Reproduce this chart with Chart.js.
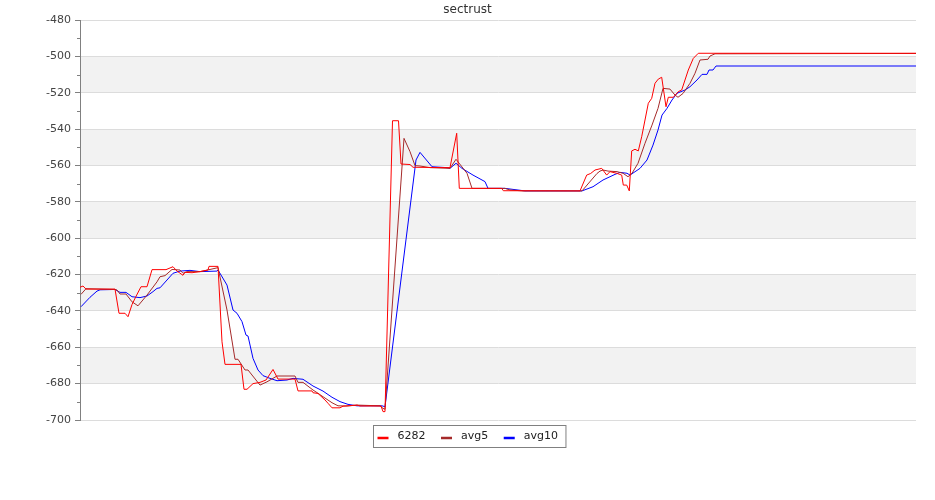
<!DOCTYPE html>
<html>
<head>
<meta charset="utf-8">
<title>sectrust</title>
<script src="https://cdn.jsdelivr.net/npm/chart.js@4.4.1/dist/chart.umd.min.js"></script>
<style>
  html, body { margin: 0; padding: 0; background: #ffffff; }
  #grafico { display: block; }
</style>
</head>
<body>
<canvas id="grafico" width="935" height="500"></canvas>
<script>
// ─────────────────────────────────────────
// Datos del gráfico
// ─────────────────────────────────────────
const tituloGrafico = 'sectrust';
const nombresSeries = ['6282', 'avg5', 'avg10'];

// eje Y
const yMin  = -700;
const yMax  = -480;
const yPaso = 20;
// eje X (muestras)
const xMin = 0;
const xMax = 836;

// serie 6282
const serieT = [0, 3, 6, 35, 39, 45, 48, 52, 56, 61, 67, 72, 86, 93, 97, 103, 105, 112, 120, 128,
  129, 138, 142, 145, 161, 164, 167, 173, 180, 186, 193, 198, 215, 218, 232, 233, 238, 245, 248, 252,
  260, 263, 277, 280, 301, 303, 305, 312.5, 318.5, 321, 330, 333, 370, 376.7, 379.3, 421.7, 423.3, 500,
  506.7, 510.7, 515, 521.7, 526.7, 530, 536.7, 541.7, 543.3, 546.7, 549.3, 551.7, 555, 558.3, 561.7,
  568.3, 571.7, 575, 578.3, 581.7, 586, 588.3, 593.3, 598.3, 601.7, 608.3, 613.3, 618.3, 836];
const serieV = [-627, -626.3, -628, -628, -641.3, -641.3, -643.2, -636.5, -632, -626.7, -626.7, -617.3,
  -617.3, -615.7, -618.1, -620.4, -618.8, -619, -618.4, -617.5, -615.5, -615.5, -657, -669.4, -669.4,
  -683.1, -683.1, -680, -679.3, -678, -672.2, -677.5, -677.5, -684, -684, -685, -685.4, -689, -690.8,
  -693.3, -693.3, -692.4, -691.8, -692.3, -692.3, -695.4, -695.4, -535.4, -535.4, -559.2, -559.5, -561,
  -561.2, -542.3, -572.6, -572.6, -573.9, -574, -565.3, -564.4, -562.5, -561.6, -565.3, -563.4, -564.3,
  -565.3, -570.8, -570.8, -574, -552, -551.1, -552, -544.2, -525.8, -523.1, -514.8, -512.5, -511.5,
  -527.7, -522.5, -522.5, -519.4, -518.5, -507.5, -501.1, -498.3, -498.3];

// media móvil 5
const avg5T = [1, 6, 35, 37, 40, 46, 52, 58, 67, 77, 80, 85, 92, 100, 103, 107, 120, 130, 138, 147,
  155, 158, 165, 168, 180, 187, 197, 215, 218, 223, 233, 238, 243, 252, 258, 267, 277, 300, 303, 305,
  324, 330, 335, 340, 350, 370, 376, 387, 392, 425, 430, 443, 502, 517, 520, 523, 528, 537, 543, 548,
  552, 558, 565, 572, 578, 583, 590, 595, 598, 603, 610, 615, 620, 628, 630, 635, 836];
const avg5V = [-630.9, -627.8, -628.2, -628.5, -630.7, -630.7, -635, -637.2, -631.3, -624, -621.2,
  -620.6, -617.2, -617.5, -619.3, -618.4, -618.4, -617.2, -616.2, -639.5, -666.6, -666.6, -672.5,
  -672.5, -680.8, -679, -675.8, -675.8, -679.3, -679.3, -683.5, -685.3, -687.2, -690.5, -692.2, -692.3,
  -691.8, -692.2, -693.6, -694.1, -545.1, -552.4, -560.1, -560.3, -561.2, -561.6, -556.6, -564.3,
  -572.6, -572.6, -573.5, -574, -574, -564.4, -563.1, -562.5, -563.1, -563.4, -564.3, -566.2, -564.3,
  -558.8, -547.8, -537.8, -528.6, -517.6, -518, -521.3, -522.5, -520.4, -514.8, -509.3, -502, -501.6,
  -499.8, -498.6, -498.4];

// media móvil 10
const avg10T = [1, 10, 17, 20, 35, 40, 46, 52, 60, 67, 73, 77, 80, 87, 93, 100, 110, 120, 137, 138,
  147, 153, 157, 162, 166, 168, 173, 178, 183, 190, 197, 207, 213, 223, 233, 243, 252, 260, 268, 277,
  302, 305, 336, 340, 352, 367, 370, 376, 382, 393, 405, 408, 425, 445, 502, 513, 523, 535, 540, 547,
  550, 560, 567, 573, 578, 582, 587, 592, 597, 605, 610, 617, 622, 627, 629, 633, 636, 836];
const avg10V = [-637.7, -632.5, -629.1, -628.4, -628.2, -629.8, -629.8, -632.2, -632.7, -631.8,
  -629.4, -627.6, -627.3, -623, -619.3, -618.1, -617.7, -618.4, -618.1, -617.5, -625.8, -639.5,
  -641.3, -645.9, -653.3, -653.8, -666.1, -672.5, -675.6, -677.1, -678.4, -678, -677.1, -677.6,
  -681.3, -684.1, -687.5, -689.9, -691.4, -692.2, -692.2, -692.7, -557, -552.8, -560.7, -561.2,
  -561.6, -558.8, -561.6, -565.3, -568.9, -572.6, -572.6, -574, -574, -571.7, -568, -564.9, -563.8,
  -564.3, -565.3, -561.6, -557, -548.8, -540.5, -532.3, -528.6, -524, -520.3, -518.5, -516.7, -513,
  -509.9, -509.9, -507.5, -507.5, -505.3, -505.3];

const coloresSeries = ['#ff0000', '#a52a2a', '#0000ff'];

// Armar puntos {x, y} a partir de los arrays
function armarPuntos(ts, vs) {
    return ts.map((t, i) => ({ x: t, y: vs[i] }));
}

// Bandas grises alternas y marcas menores del eje Y
const pluginFondo = {
    id: 'fondo',
    beforeDraw(chart) {
        const { ctx, chartArea, scales } = chart;
        const y = scales.y;
        ctx.save();
        ctx.fillStyle = '#f2f2f2';
        // bandas: -500..-520, -540..-560, ...
        for (let v = yMax - yPaso; v > yMin; v -= 2 * yPaso) {
            const top = y.getPixelForValue(v);
            const bot = y.getPixelForValue(v - yPaso);
            ctx.fillRect(chartArea.left, top, chartArea.right - chartArea.left, bot - top);
        }
        ctx.restore();
    },
    afterDraw(chart) {
        const { ctx, chartArea, scales } = chart;
        const y = scales.y;
        ctx.save();
        // marcas menores
        ctx.strokeStyle = '#808080';
        ctx.lineWidth = 1;
        ctx.beginPath();
        for (let v = yMax - yPaso / 2; v > yMin; v -= yPaso) {
            const py = Math.round(y.getPixelForValue(v)) + 0.5;
            ctx.moveTo(chartArea.left - 3, py);
            ctx.lineTo(chartArea.left, py);
        }
        ctx.stroke();

        // título
        ctx.fillStyle = '#333333';
        ctx.font = "12px 'DejaVu Sans'";
        ctx.textAlign = 'center';
        ctx.textBaseline = 'middle';
        ctx.fillText(tituloGrafico, chart.width / 2, 10);

        // leyenda con recuadro
        ctx.font = "11px 'DejaVu Sans'";
        const largoLinea = 11, sepTexto = 9, sepItem = 15.5, pad = 4;
        const items = chart.data.datasets.map(ds => ({
            label: ds.label, color: ds.borderColor, w: ctx.measureText(ds.label).width
        }));
        let total = pad * 2;
        items.forEach((it, i) => {
            total += largoLinea + sepTexto + it.w + (i < items.length - 1 ? sepItem : 0);
        });
        total += 4;
        const boxX = Math.round(chart.width / 2 + 2 - total / 2) + 0.5;
        const boxY = 425.5, boxH = 22;
        ctx.fillStyle = '#ffffff';
        ctx.fillRect(boxX, boxY, total, boxH);
        ctx.strokeStyle = '#808080';
        ctx.strokeRect(boxX, boxY, total, boxH);
        let cx = boxX + pad;
        const cy = boxY + boxH / 2;
        items.forEach(it => {
            ctx.strokeStyle = it.color;
            ctx.lineWidth = 2.5;
            ctx.beginPath();
            ctx.moveTo(cx, cy + 1.5);
            ctx.lineTo(cx + largoLinea, cy + 1.5);
            ctx.stroke();
            cx += largoLinea + sepTexto;
            ctx.fillStyle = '#222222';
            ctx.textAlign = 'left';
            ctx.fillText(it.label, cx, cy);
            cx += it.w + sepItem;
        });
        ctx.restore();
    }
};

const ctxGrafico = document.getElementById('grafico').getContext('2d');
const grafico = new Chart(ctxGrafico, {
    type: 'line',
    data: {
        datasets: [
            { label: nombresSeries[0], data: armarPuntos(serieT, serieV) },
            { label: nombresSeries[1], data: armarPuntos(avg5T, avg5V) },
            { label: nombresSeries[2], data: armarPuntos(avg10T, avg10V) }
        ].map((ds, i) => Object.assign(ds, {
            borderColor: coloresSeries[i],
            backgroundColor: coloresSeries[i],
            borderWidth: 1,
            pointRadius: 0,
            tension: 0,
            fill: false
        }))
    },
    options: {
        responsive: false,
        animation: false,
        events: [],
        layout: { padding: { left: 0, right: 19, top: 20, bottom: 80 } },
        plugins: {
            legend: { display: false },
            title: { display: false },
            tooltip: { enabled: false }
        },
        scales: {
            x: {
                type: 'linear',
                min: xMin,
                max: xMax,
                display: false
            },
            y: {
                type: 'linear',
                min: yMin,
                max: yMax,
                afterFit: (scale) => { scale.width = 80; },
                ticks: {
                    stepSize: yPaso,
                    padding: 4,
                    color: '#444444',
                    font: { family: 'DejaVu Sans', size: 11 }
                },
                grid: {
                    color: '#dcdcdc',
                    tickColor: '#808080',
                    tickLength: 5,
                    lineWidth: 1
                },
                border: { display: true, color: '#808080', width: 1 }
            }
        }
    },
    plugins: [pluginFondo]
});
</script>
</body>
</html>
